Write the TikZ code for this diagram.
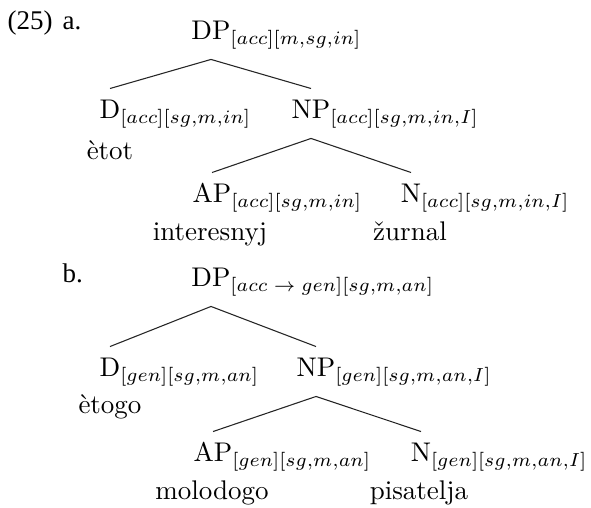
\documentclass[tikz,border=0pt]{standalone}
\usepackage{fontspec}
\usepackage{amsmath}
\usepackage{tikz}
\newfontfamily\exnumfont{Liberation Serif}
% head label: category with its features hanging to the right, plus a strut
% so that the branches start below and end above the category letters
\newcommand{\cat}[2]{#1\rlap{\smash{$_{#2}$}}\rule[-7pt]{0pt}{18.1pt}}
\tikzset{
	catnode/.style={anchor=base, inner sep=0pt},
	wordnode/.style={anchor=base, inner sep=0pt},
	exnum/.style={anchor=base west, inner sep=0pt, font=\exnumfont},
	branch/.style={thin, black!85}
}

\begin{document}
\begin{tikzpicture}[scale=1.3021]
			\useasboundingbox (0,0) rectangle (5.91,-5.08);
			\node[exnum] (numa) at (0.07,-0.30) {(25)};
			\node[exnum] (laba) at (0.62,-0.30) {a.};
			\node[catnode] (dpa) at (2.11,-0.40) {\cat{DP}{[acc][m,sg,in]}};
			\node[catnode] (da) at (1.10,-1.19) {\cat{D}{[acc][sg,m,in]}};
			\node[catnode] (npa) at (3.11,-1.19) {\cat{NP}{[acc][sg,m,in,I]}};
			\node[wordnode] (wda) at (1.10,-1.60) {ètot};
			\node[catnode] (apa) at (2.12,-2.03) {\cat{AP}{[acc][sg,m,in]}};
			\node[catnode] (na) at (4.11,-2.03) {\cat{N}{[acc][sg,m,in,I]}};
			\node[wordnode] (wapa) at (2.10,-2.41) {interesnyj};
			\node[wordnode] (wna) at (4.10,-2.41) {žurnal};
			\draw[branch] (dpa.south) -- (da.north);
			\draw[branch] (dpa.south) -- (npa.north);
			\draw[branch] (npa.south) -- (apa.north);
			\draw[branch] (npa.south) -- (na.north);
			\node[exnum] (labb) at (0.62,-2.83) {b.};
			\node[catnode] (dpb) at (2.11,-2.87) {\cat{DP}{[acc\;\rightarrow\;gen][sg,m,an]}};
			\node[catnode] (db) at (1.10,-3.77) {\cat{D}{[gen][sg,m,an]}};
			\node[catnode] (npb) at (3.16,-3.77) {\cat{NP}{[gen][sg,m,an,I]}};
			\node[wordnode] (wdb) at (1.10,-4.14) {ètogo};
			\node[catnode] (apb) at (2.13,-4.62) {\cat{AP}{[gen][sg,m,an]}};
			\node[catnode] (nb) at (4.21,-4.62) {\cat{N}{[gen][sg,m,an,I]}};
			\node[wordnode] (wapb) at (2.12,-5.00) {molodogo};
			\node[wordnode] (wnb) at (4.19,-5.00) {pisatelja};
			\draw[branch] (dpb.south) -- (db.north);
			\draw[branch] (dpb.south) -- (npb.north);
			\draw[branch] (npb.south) -- (apb.north);
			\draw[branch] (npb.south) -- (nb.north);
		\end{tikzpicture}
\end{document}
